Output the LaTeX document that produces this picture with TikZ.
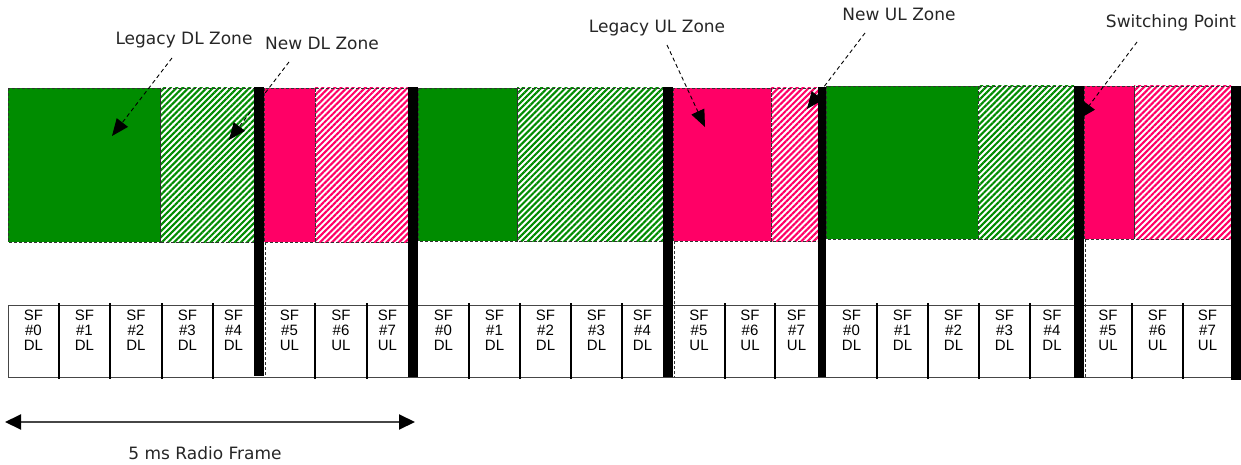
\documentclass[tikz,border=0pt]{standalone}
\usepackage{fontspec}
\setmainfont{DejaVu Sans}
\newfontfamily\arialf{Liberation Sans}
\newcommand{\sfcell}[2]{\arialf\fontsize{15}{15}\selectfont\begin{tabular}{@{}c@{}}SF\\\##1\\#2\end{tabular}}
\usetikzlibrary{arrows.meta,patterns.meta}
\definecolor{zgreen}{RGB}{0,140,0}
\definecolor{zpink}{RGB}{255,0,102}
\definecolor{edgegray}{RGB}{50,50,50}
\definecolor{linegray}{RGB}{70,70,70}
\tikzset{
  solidzone/.style={fill=#1},
  hatchzone/.style={fill=white, postaction={pattern={Lines[angle=45,distance=4.3pt,line width=2.1pt]}, pattern color=#1}},
  zoneedge/.style={draw=edgegray, line width=0.8pt, dash pattern=on 3pt off 2pt},
  blackbar/.style={fill=black},
  ann/.style={draw=black, line width=0.9pt, dash pattern=on 4pt off 3pt, -{Triangle[length=17pt,width=14pt]}},
  lbl/.style={font=\fontsize{17}{20}\selectfont, inner sep=0pt, text=black!85},
  sflabel/.style={inner sep=0pt, text=black},
  divider/.style={draw=black, line width=1.8pt},
  boxline/.style={draw=linegray, line width=0.9pt},
  span/.style={draw=linegray, line width=2pt, {Triangle[length=16pt,width=15pt,color=black]}-{Triangle[length=16pt,width=15pt,color=black]}},
}
\begin{document}
\begin{tikzpicture}[x=1pt,y=-1pt]
\useasboundingbox (0,0) rectangle (1241,465);

% ---- zones (frame 1)
\path[solidzone=zgreen] (8,88) rectangle (160,242);
\path[hatchzone=zgreen] (160,88) rectangle (254,242);
\path[solidzone=zpink] (264,88) rectangle (315,242);
\path[hatchzone=zpink] (315,88) rectangle (408,242);
% frame 2
\path[solidzone=zgreen] (418,88) rectangle (517,241);
\path[hatchzone=zgreen] (517,88) rectangle (663,241);
\path[solidzone=zpink] (673,88) rectangle (771,241);
\path[hatchzone=zpink] (771,88) rectangle (818,241);
% frame 3
\path[solidzone=zgreen] (826,86) rectangle (978,239);
\path[hatchzone=zgreen] (978,86) rectangle (1074,239);
\path[solidzone=zpink] (1084,86) rectangle (1134,239);
\path[hatchzone=zpink] (1134,86) rectangle (1231,239);
% dashed outlines
\foreach \a/\b/\t/\u in {8/160/88/242,160/254/88/242,264/315/88/242,315/408/88/242,
  418/517/88/241,517/663/88/241,673/771/88/241,771/818/88/241,
  826/978/86/239,978/1074/86/239,1084/1134/86/239,1134/1231/86/239}
  \draw[zoneedge] (\a,\t) rectangle (\b,\u);

% ---- subframe boxes
\draw[boxline] (8,305) -- (1240,305);
\draw[boxline] (8,377) -- (1240,377);
\draw[boxline] (8,305) -- (8,377);
\foreach \x in {59,110,162,213,315,367,469,520,571,622,725,775,877,928,979,1030,1132,1183}
  \draw[divider] (\x,303) -- (\x,379);
\foreach \x/\t in {265/242,674/241,1085/239}
  \draw[zoneedge] (\x,\t) -- (\x,377);
\foreach \xa/\xb/\num/\dir [count=\k] in {
  8/59/0/DL,59/110/1/DL,110/162/2/DL,162/213/3/DL,213/254/4/DL,264/315/5/UL,315/367/6/UL,367/408/7/UL,
  418/469/0/DL,469/520/1/DL,520/571/2/DL,571/622/3/DL,622/663/4/DL,673/725/5/UL,725/775/6/UL,775/818/7/UL,
  826/877/0/DL,877/928/1/DL,928/979/2/DL,979/1030/3/DL,1030/1074/4/DL,1084/1132/5/UL,1132/1183/6/UL,1183/1232/7/UL}
  \node[sflabel] (sf\k) at ({(\xa+\xb)/2},332) {\sfcell{\num}{\dir}};

% ---- annotations
\node[lbl] (legDL) at (184,40) {Legacy DL Zone};
\node[lbl] (newDL) at (322,43) {New DL Zone};
\node[lbl] (legUL) at (657,28) {Legacy UL Zone};
\node[lbl] (newUL) at (899,14) {New UL Zone};
\node[lbl] (swp) at (1171,23) {Switching Point};
\coordinate (tLegDL) at (112,136);
\coordinate (tNewDL) at (229,140);
\coordinate (tLegUL) at (705,127);
\coordinate (tNewUL) at (807,109);
\coordinate (tSwp) at (1079,119);
\draw[ann] ([shift={(-12,18)}]legDL.center) -- (tLegDL);
\draw[ann] ([shift={(-33,19)}]newDL.center) -- (tNewDL);
\draw[ann] ([shift={(10,17)}]legUL.center) -- (tLegUL);
\draw[ann] ([shift={(-34,19)}]newUL.center) -- (tNewUL);
\draw[ann] ([shift={(-34,19)}]swp.center) -- (tSwp);

% ---- switching bars
\foreach \a/\b/\t/\u in {254/264/87/376,408/418/87/377,663/673/87/377,818/826/87/377,1074/1084/86/378,1231/1241/86/380}
  \fill[blackbar] (\a,\t) rectangle (\b,\u);

% ---- radio frame span
\coordinate (fl) at (5,422);
\coordinate (fr) at (415,422);
\draw[span] (fl) -- (fr);
\node[lbl] (rf) at (205,453) {5 ms Radio Frame};
\end{tikzpicture}
\end{document}
